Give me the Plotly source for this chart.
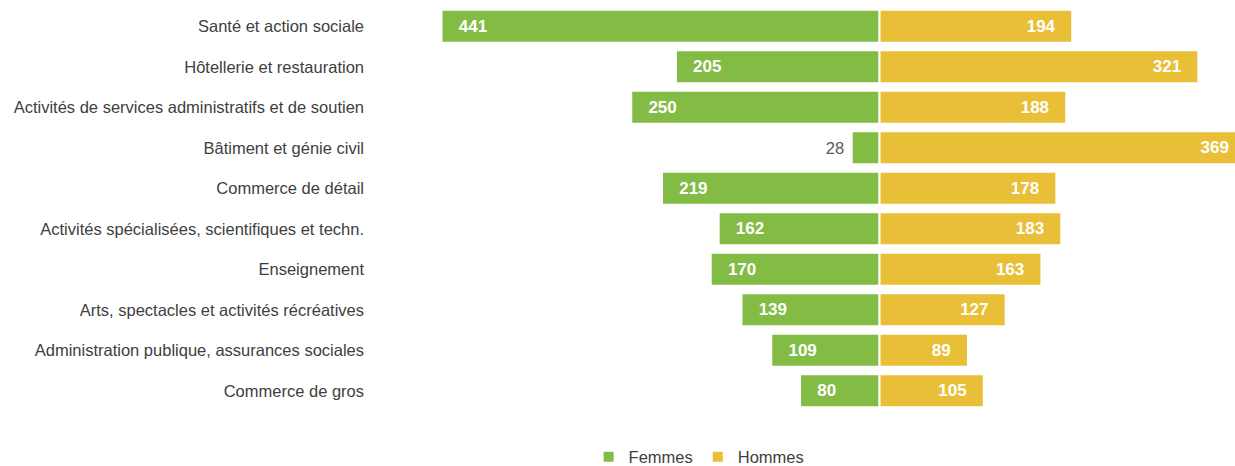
import plotly.graph_objects as go

secteurs = [
    "Santé et action sociale",
    "Hôtellerie et restauration",
    "Activités de services administratifs et de soutien",
    "Bâtiment et génie civil",
    "Commerce de détail",
    "Activités spécialisées, scientifiques et techn.",
    "Enseignement",
    "Arts, spectacles et activités récréatives",
    "Administration publique, assurances sociales",
    "Commerce de gros",
]
femmes = [441, 205, 250, 28, 219, 162, 170, 139, 109, 80]
hommes = [194, 321, 188, 369, 178, 183, 163, 127, 89, 105]

VERT = "#83BC45"
JAUNE = "#E8BF36"
GRIS = "#595959"
FONT = "Liberation Sans, Arial, sans-serif"
TAILLE = 16.5
PAD = "\u00a0\u00a0\u00a0"

# petites valeurs -> étiquette à l'extérieur de la barre
SEUIL = 50


def etiquettes(vals, gauche):
    out = []
    for v in vals:
        if v < SEUIL:
            out.append(f"{v}\u00a0" if gauche else f"\u00a0{v}")
        elif gauche:
            out.append(f"{PAD}<b>{v}</b>")
        else:
            out.append(f"<b>{v}</b>{PAD}")
    return out


fig = go.Figure()
fig.add_trace(
    go.Bar(
        y=secteurs,
        x=[-v for v in femmes],
        orientation="h",
        name="Femmes",
        marker=dict(color=VERT, line=dict(color="white", width=2)),
        text=etiquettes(femmes, True),
        textposition=["outside" if v < SEUIL else "inside" for v in femmes],
        insidetextanchor="end",
        insidetextfont=dict(color="white", size=17, family=FONT),
        outsidetextfont=dict(color=GRIS, size=TAILLE, family=FONT),
        hovertemplate="%{y}<br>Femmes : %{customdata}<extra></extra>",
        customdata=femmes,
    )
)
fig.add_trace(
    go.Bar(
        y=secteurs,
        x=hommes,
        orientation="h",
        name="Hommes",
        marker=dict(color=JAUNE, line=dict(color="white", width=2)),
        text=etiquettes(hommes, False),
        textposition=["outside" if v < SEUIL else "inside" for v in hommes],
        insidetextanchor="end",
        insidetextfont=dict(color="white", size=17, family=FONT),
        outsidetextfont=dict(color=GRIS, size=TAILLE, family=FONT),
        hovertemplate="%{y}<br>Hommes : %{x}<extra></extra>",
    )
)

# le graphique d'origine est rogné à droite : la figure déborde un peu de la fenêtre
fig.update_layout(
    width=1249,
    height=466,
    barmode="relative",
    bargap=0.18,
    plot_bgcolor="white",
    paper_bgcolor="white",
    font=dict(family=FONT, size=TAILLE, color="#404040"),
    margin=dict(l=375, r=0, t=6, b=55),
    legend=dict(
        orientation="h",
        x=0.2444,
        xanchor="left",
        yref="container",
        y=0.019,
        yanchor="middle",
        font=dict(size=TAILLE, color="#404040"),
        itemwidth=30,
    ),
)
fig.update_xaxes(
    range=[-508, 372],
    visible=False,
    showgrid=False,
    zeroline=False,
)
fig.update_yaxes(
    autorange="reversed",
    showgrid=False,
    ticks="",
    ticklabelstandoff=10,
    tickfont=dict(size=TAILLE, color="#404040"),
)

fig.write_html(
    "out.html",
    config={"displayModeBar": False},
    post_script="document.body.style.margin = '0'; document.body.style.overflow = 'hidden';",
)
